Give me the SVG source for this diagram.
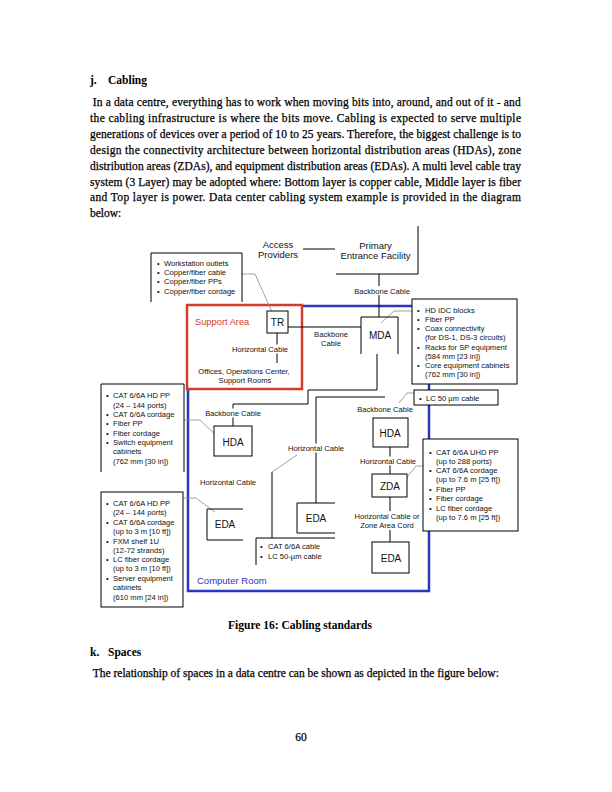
<svg xmlns="http://www.w3.org/2000/svg" width="612" height="792" viewBox="0 0 612 792">
<style>
.body{font-family:"Liberation Serif","Times New Roman",serif;font-size:11.5px;fill:#000;stroke:#000;stroke-width:0.25}
.bold{font-family:"Liberation Serif","Times New Roman",serif;font-size:11.5px;font-weight:bold;fill:#000}
.lab{font-family:"Liberation Sans",Arial,sans-serif;font-size:7.6px;fill:#111}
.big{font-family:"Liberation Sans",Arial,sans-serif;font-size:9.5px;fill:#111}
.box{font-family:"Liberation Sans",Arial,sans-serif;font-size:10px;fill:#111}
.mid{text-anchor:middle}
.ln{fill:none;stroke:#000;stroke-width:1}
.ld{fill:none;stroke:#888;stroke-width:0.8}
.wb{fill:#fff;stroke:#000;stroke-width:1}
.bg{fill:#fff;stroke:none}
</style>
<rect width="612" height="792" fill="#fff"/>

<!-- Page text -->
<text class="bold" x="90" y="84">j.</text>
<text class="bold" x="108" y="84">Cabling</text>
<text class="body" x="92.7" y="106" textLength="428" lengthAdjust="spacing">In a data centre, everything has to work when moving bits into, around, and out of it - and</text>
<text class="body" x="90" y="122" textLength="431" lengthAdjust="spacing">the cabling infrastructure is where the bits move. Cabling is expected to serve multiple</text>
<text class="body" x="90" y="138" textLength="431" lengthAdjust="spacing">generations of devices over a period of 10 to 25 years. Therefore, the biggest challenge is to</text>
<text class="body" x="90" y="153.5" textLength="431" lengthAdjust="spacing">design the connectivity architecture between horizontal distribution areas (HDAs), zone</text>
<text class="body" x="90" y="169.5" textLength="431" lengthAdjust="spacing">distribution areas (ZDAs), and equipment distribution areas (EDAs). A multi level cable tray</text>
<text class="body" x="90" y="185.5" textLength="431" lengthAdjust="spacing">system (3 Layer) may be adopted where: Bottom layer is copper cable, Middle layer is fiber</text>
<text class="body" x="90" y="201" textLength="431" lengthAdjust="spacing">and Top layer is power.  Data center cabling system example is provided in the diagram</text>
<text class="body" x="90" y="217">below:</text>

<text class="bold mid" x="300" y="629">Figure 16: Cabling standards</text>
<text class="bold" x="90" y="656">k.</text>
<text class="bold" x="108" y="656">Spaces</text>
<text class="body" x="92.7" y="677">The relationship of spaces in a data centre can be shown as depicted in the figure below:</text>
<text class="body mid" x="301" y="741">60</text>

<!-- Areas -->
<g id="computer-room">
<rect x="188" y="306" width="241" height="285" fill="none" stroke="#2a36c0" stroke-width="2.5"/>
<text x="197" y="583.5" font-family="Liberation Sans, Arial, sans-serif" font-size="9.5" fill="#2a36c0">Computer Room</text>
</g>
<g id="support-area">
<rect x="187" y="305" width="115" height="84" fill="#fff" stroke="#d23c2c" stroke-width="2.5"/>
<text x="195" y="325" font-family="Liberation Sans, Arial, sans-serif" font-size="9.3" fill="#d23c2c">Support Area</text>
<text class="lab mid" x="244" y="373.5">Offices, Operations Center,</text>
<text class="lab mid" x="245" y="382.5">Support Rooms</text>
</g>

<!-- Connectors -->
<g id="connectors">
<path class="ln" d="M303,249 H335"/>
<path class="ln" d="M379,274 V317"/>
<path class="ln" d="M288,327 H361"/>
<path class="ln" d="M277,333 V363"/>
<path class="ln" d="M377,354 V390 H308 V404 H233 V426"/>
<path class="ln" d="M316,503 V397 H385"/>
<path class="ln" d="M390,447 V474"/>
<path class="ln" d="M390,497 V542"/>
<path class="ln" d="M272,538 V472"/>
<path class="ld" d="M272,472 L297,455"/>
<path class="ld" d="M242,274 H255 L272,312"/>
<path class="ld" d="M412,311 H394 L381,323"/>
<path class="ld" d="M414,393 H407 L399,403"/>
<path class="ld" d="M423,466 H416 L405,480"/>
<path class="ld" d="M184,420 H200 L219,438"/>
<path class="ld" d="M183,498 H196 L215,512"/>
<!-- labels on connectors -->
<rect class="bg" x="353" y="286" width="57" height="9"/>
<text class="lab mid" x="382" y="293.5">Backbone Cable</text>
<text class="lab mid" x="331" y="336.5">Backbone</text>
<text class="lab mid" x="331" y="345.5">Cable</text>
<rect class="bg" x="231" y="344.5" width="58" height="9"/>
<text class="lab mid" x="260" y="351.5">Horizontal Cable</text>
<rect class="bg" x="204" y="408.5" width="58" height="9"/>
<text class="lab mid" x="233" y="415.5">Backbone Cable</text>
<rect class="bg" x="287" y="443.5" width="58" height="9"/>
<text class="lab mid" x="316" y="450.5">Horizontal Cable</text>
<text class="lab mid" x="228" y="484.5">Horizontal Cable</text>
<rect class="bg" x="357" y="404.5" width="57" height="9"/>
<text class="lab mid" x="385" y="411.5">Backbone Cable</text>
<rect class="bg" x="359" y="456.5" width="58" height="9"/>
<text class="lab mid" x="388" y="463.5">Horizontal Cable</text>
<rect class="bg" x="352" y="511" width="70" height="19"/>
<text class="lab mid" x="387" y="518.5">Horizontal Cable or</text>
<text class="lab mid" x="387" y="528">Zone Area Cord</text>
</g>

<!-- Nodes -->
<g id="access-providers">
<text class="big mid" x="278" y="247.5">Access</text>
<text class="big mid" x="278" y="258">Providers</text>
</g>
<g id="primary-entrance">
<path class="ln" d="M418,226 V274 H336"/>
<text class="big mid" x="375.5" y="248.5">Primary</text>
<text class="big mid" x="375.5" y="258.5">Entrance Facility</text>
</g>
<g id="tr">
<rect class="wb" x="267" y="311" width="21" height="22"/>
<text class="box mid" x="277.5" y="325.5">TR</text>
</g>
<g id="mda">
<path class="ln" d="M361,354 V317 H398 V354"/>
<text class="box mid" x="380" y="339">MDA</text>
</g>
<g id="hda-left">
<rect class="wb" x="214" y="426" width="38" height="30"/>
<text class="box mid" x="233" y="445.5">HDA</text>
</g>
<g id="hda-right">
<rect class="wb" x="373" y="418" width="35" height="29"/>
<text class="box mid" x="390" y="436.5">HDA</text>
</g>
<g id="zda">
<rect class="wb" x="372" y="474" width="35" height="23"/>
<text class="box mid" x="390" y="489.5">ZDA</text>
</g>
<g id="eda-left">
<path class="ln" d="M243,509 H207 V540 H243"/>
<text class="box mid" x="225" y="527.5">EDA</text>
</g>
<g id="eda-mid">
<path class="ln" d="M335,503 H297 V533 H335"/>
<text class="box mid" x="316" y="521.5">EDA</text>
</g>
<g id="eda-right">
<rect class="wb" x="372" y="542" width="37" height="31"/>
<text class="box mid" x="391" y="561.5">EDA</text>
</g>

<!-- Bullet boxes -->
<g id="note-tr" class="lab">
<path class="ln" d="M151,302 V253 H242 V302"/>
<text x="157" y="265.5">•</text><text x="164" y="265.5">Workstation outlets</text>
<text x="157" y="274.5">•</text><text x="164" y="274.5">Copper/fiber cable</text>
<text x="157" y="284">•</text><text x="164" y="284">Copper/fiber PPs</text>
<text x="157" y="293.5">•</text><text x="164" y="293.5">Copper/fiber cordage</text>
</g>
<g id="note-mda" class="lab">
<rect class="wb" x="412" y="299" width="105" height="85"/>
<text x="417" y="312.5">•</text><text x="425" y="312.5">HD IDC blocks</text>
<text x="417" y="321.5">•</text><text x="425" y="321.5">Fiber PP</text>
<text x="417" y="331">•</text><text x="425" y="331">Coax connectivity</text>
<text x="425" y="340">(for DS-1, DS-3 circuits)</text>
<text x="417" y="349.5">•</text><text x="425" y="349.5">Racks for SP equipment</text>
<text x="425" y="358.5">(584 mm [23 in])</text>
<text x="417" y="367.5">•</text><text x="425" y="367.5">Core equipment cabinets</text>
<text x="425" y="376.5">(762 mm [30 in])</text>
</g>
<g id="note-lc" class="lab">
<rect class="wb" x="414" y="390" width="84" height="15"/>
<text x="419" y="400.5">•</text><text x="426" y="400.5">LC 50 µm cable</text>
</g>
<g id="note-zda" class="lab">
<rect class="wb" x="423" y="439" width="95" height="92"/>
<text x="429" y="454.5">•</text><text x="436" y="454.5">CAT 6/6A UHD PP</text>
<text x="436" y="463.5">(up to 288 ports)</text>
<text x="429" y="472.5">•</text><text x="436" y="472.5">CAT 6/6A cordage</text>
<text x="436" y="481.5">(up to 7.6 m [25 ft])</text>
<text x="429" y="491.5">•</text><text x="436" y="491.5">Fiber PP</text>
<text x="429" y="500.5">•</text><text x="436" y="500.5">Fiber cordage</text>
<text x="429" y="510.5">•</text><text x="436" y="510.5">LC fiber cordage</text>
<text x="436" y="519.5">(up to 7.6 m [25 ft])</text>
</g>
<g id="note-hda" class="lab">
<path class="ln" d="M101,472 V384 H184 V472"/>
<text x="106" y="398">•</text><text x="113" y="398">CAT 6/6A HD PP</text>
<text x="113" y="408">(24 – 144 ports)</text>
<text x="106" y="417">•</text><text x="113" y="417">CAT 6/6A cordage</text>
<text x="106" y="426">•</text><text x="113" y="426">Fiber PP</text>
<text x="106" y="436">•</text><text x="113" y="436">Fiber cordage</text>
<text x="106" y="445">•</text><text x="113" y="445">Switch equipment</text>
<text x="113" y="454">cabinets</text>
<text x="113" y="464">(762 mm [30 in])</text>
</g>
<g id="note-eda" class="lab">
<rect class="wb" x="101" y="492" width="82" height="115"/>
<text x="106" y="505.5">•</text><text x="113" y="505.5">CAT 6/6A HD PP</text>
<text x="113" y="515">(24 – 144 ports)</text>
<text x="106" y="524.5">•</text><text x="113" y="524.5">CAT 6/6A cordage</text>
<text x="113" y="533.5">(up to 3 m [10 ft])</text>
<text x="106" y="543.5">•</text><text x="113" y="543.5">FXM shelf 1U</text>
<text x="113" y="552.5">(12-72 strands)</text>
<text x="106" y="562">•</text><text x="113" y="562">LC fiber cordage</text>
<text x="113" y="571">(up to 3 m [10 ft])</text>
<text x="106" y="581">•</text><text x="113" y="581">Server equipment</text>
<text x="113" y="590">cabinets</text>
<text x="113" y="599.5">(610 mm [24 in])</text>
</g>
<g id="note-cable" class="lab">
<path class="ln" d="M256,565 V538 H335"/>
<text x="260" y="548.5">•</text><text x="268" y="548.5">CAT 6/6A cable</text>
<text x="260" y="558.5">•</text><text x="268" y="558.5">LC 50-µm cable</text>
</g>
</svg>
